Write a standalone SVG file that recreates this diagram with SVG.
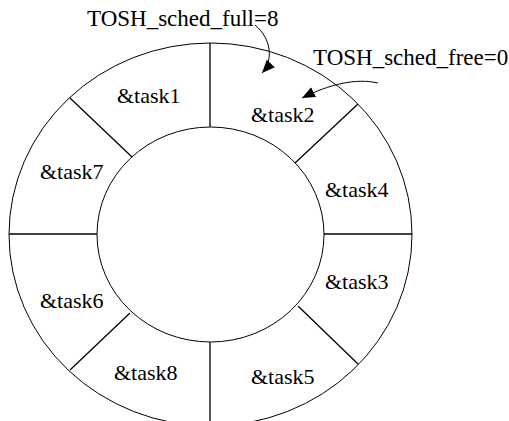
<svg xmlns="http://www.w3.org/2000/svg" width="509" height="421" viewBox="0 0 509 421">
  <style>
    .ring { fill: none; stroke: #000; stroke-width: 1; }
    .div { stroke: #000; stroke-width: 1.3; fill: none; }
    text { font-family: 'Liberation Serif', 'DejaVu Serif', serif; fill: #000; }
    .lbl { font-size: 22px; }
    .top { font-size: 23px; }
    .arr { fill: none; stroke: #000; stroke-width: 1; }
  </style>
  <defs>
    <marker id="ah" markerUnits="userSpaceOnUse" markerWidth="14" markerHeight="12" refX="13" refY="5.5" orient="auto">
      <path d="M0,0 L13,5.5 L0,11 z" fill="#000"/>
    </marker>
  </defs>
  <rect width="509" height="421" fill="#fff"/>
  <g id="ring">
    <ellipse class="ring" cx="210.5" cy="234.5" rx="201.5" ry="191.5"/>
    <ellipse class="ring" cx="210.5" cy="234.5" rx="113.5" ry="107.5"/>
    <line class="div" x1="210" y1="43" x2="210" y2="127"/>
    <line class="div" x1="210" y1="342" x2="210" y2="426"/>
    <line class="div" x1="9" y1="234" x2="97" y2="234"/>
    <line class="div" x1="324" y1="234" x2="412" y2="234"/>
    <line class="div" x1="70" y1="98" x2="132" y2="157"/>
    <line class="div" x1="358" y1="104" x2="295" y2="163"/>
    <line class="div" x1="130" y1="313" x2="70" y2="370"/>
    <line class="div" x1="298" y1="306" x2="358" y2="364"/>
  </g>
  <g id="task1"><text class="lbl" x="117" y="103" font-family="Liberation Serif, serif">&amp;task1</text></g>
  <g id="task2"><text class="lbl" x="251" y="122" font-family="Liberation Serif, serif">&amp;task2</text></g>
  <g id="task7"><text class="lbl" x="40" y="179" font-family="Liberation Serif, serif">&amp;task7</text></g>
  <g id="task4"><text class="lbl" x="325" y="197" font-family="Liberation Serif, serif">&amp;task4</text></g>
  <g id="task3"><text class="lbl" x="325" y="289" font-family="Liberation Serif, serif">&amp;task3</text></g>
  <g id="task6"><text class="lbl" x="40" y="308" font-family="Liberation Serif, serif">&amp;task6</text></g>
  <g id="task8"><text class="lbl" x="114" y="380" font-family="Liberation Serif, serif">&amp;task8</text></g>
  <g id="task5"><text class="lbl" x="251" y="384" font-family="Liberation Serif, serif">&amp;task5</text></g>
  <g id="full"><text class="top" x="87" y="26" font-family="Liberation Serif, serif">TOSH_sched_full=8</text></g>
  <g id="free"><text class="top" x="313" y="65" font-family="Liberation Serif, serif">TOSH_sched_free=0</text></g>
  <g id="connectors">
    <path class="arr" d="M255,25 C271,38 274,60 262,73" marker-end="url(#ah)"/>
    <path class="arr" d="M378,83 C356,78 330,84 302,98" marker-end="url(#ah)"/>
  </g>
</svg>
